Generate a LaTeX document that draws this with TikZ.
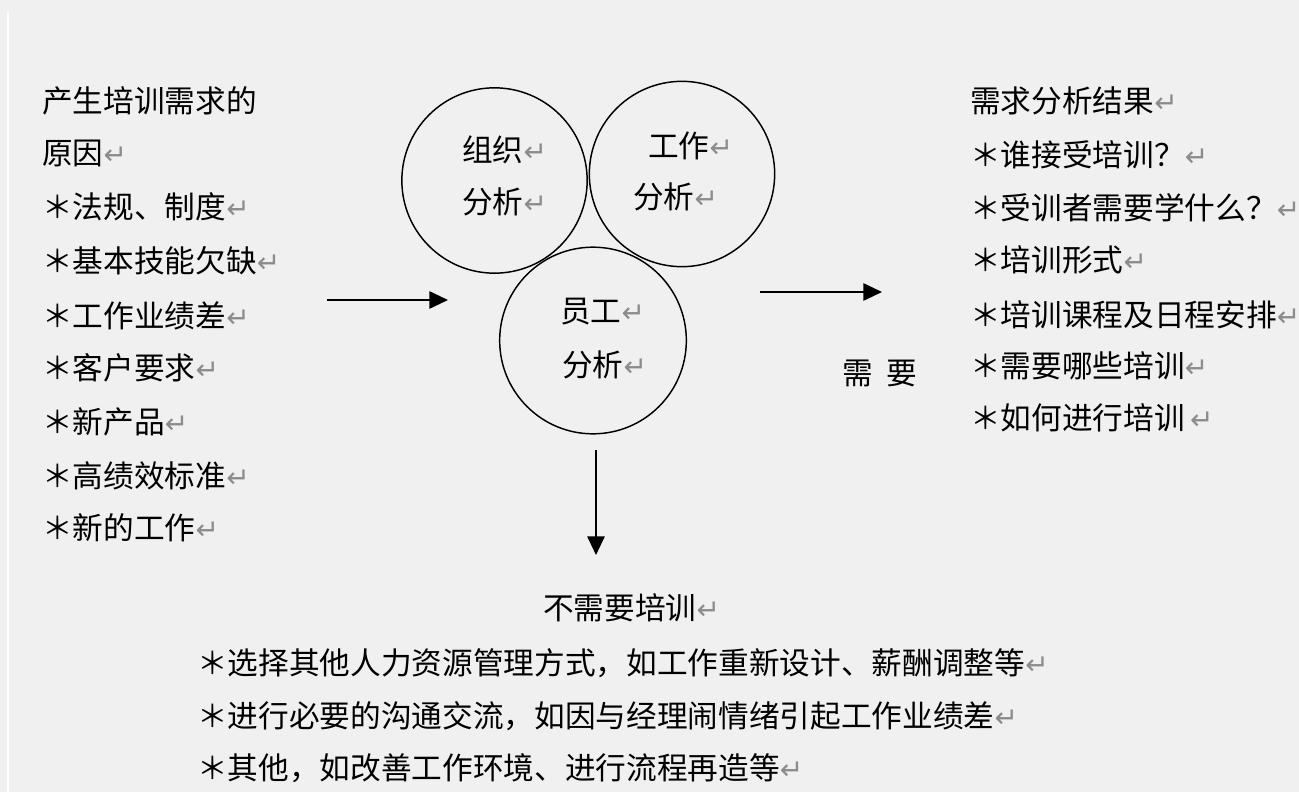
\documentclass[tikz,border=0pt]{standalone}
\usepackage{fontspec}
\usetikzlibrary{arrows.meta}
\newfontfamily\cjk{Noto Sans CJK SC}
\newfontfamily\symf{DejaVu Sans}
\definecolor{bgc}{HTML}{F0F0F0}
\definecolor{retgray}{HTML}{8C8C8C}
\newcommand{\rmk}{{\symf\fontsize{21}{21}\selectfont\textcolor{retgray}{↵}}}
\tikzset{
  txt/.style={font=\cjk\fontsize{23}{23}\selectfont, inner sep=0pt, anchor=west, text height=16pt, text depth=1.5pt},
  circ/.style={circle, draw, line width=1.1pt, inner sep=0pt},
  arr/.style={line width=1.4pt, -{Triangle[length=14pt,width=13pt]}}
}
\begin{document}
\begin{tikzpicture}[x=0.75pt,y=-0.75pt]
\fill[bgc] (0,0) rectangle (1299,792);
\useasboundingbox (0,0) rectangle (1299,792);
\draw[white, line width=1.5pt] (8,11) -- (8,792);

% left column
\node[txt] (l0) at (42,103) {产生培训需求的};
\node[txt] (l1) at (42,155) {原因\rmk};
\node[txt] (l2) at (42,209) {＊法规、制度\rmk};
\node[txt] (l3) at (42,263) {＊基本技能欠缺\rmk};
\node[txt] (l4) at (42,318) {＊工作业绩差\rmk};
\node[txt] (l5) at (42,370) {＊客户要求\rmk};
\node[txt] (l6) at (42,424) {＊新产品\rmk};
\node[txt] (l7) at (42,478) {＊高绩效标准\rmk};
\node[txt] (l8) at (42,530) {＊新的工作\rmk};

% circles
\node[circ, minimum size=139pt] (org) at (494.5,180.5) {};
\node[circ, minimum size=139pt] (job) at (682,174) {};
\node[circ, minimum size=140pt] (emp) at (593,340.5) {};
\node[txt] (orgA) at (462,152) {组织\rmk};
\node[txt] (orgB) at (462,204) {分析\rmk};
\node[txt] (jobA) at (648,148) {工作\rmk};
\node[txt] (jobB) at (633,199) {分析\rmk};
\node[txt] (empA) at (560,313) {员工\rmk};
\node[txt] (empB) at (562,367) {分析\rmk};

% arrows
\coordinate (la1) at (327,300);
\coordinate (la2) at (448,300);
\draw[arr] (la1) -- (la2);
\coordinate (ra1) at (760,292);
\coordinate (ra2) at (882,292);
\draw[arr] (ra1) -- (ra2);
\coordinate (da1) at (596,450);
\coordinate (da2) at (596,555);
\draw[arr] (da1) -- (da2);

\node[txt, anchor=center] (need) at (880,375) {需\hspace{0.45em}要};

% right column
\node[txt] (r0) at (970,103) {需求分析结果\rmk};
\node[txt] (r1) at (970,157) {＊谁接受培训？\rmk};
\node[txt] (r2) at (970,210) {＊受训者需要学什么？\rmk};
\node[txt] (r3) at (970,262) {＊培训形式\rmk};
\node[txt] (r4) at (970,317) {＊培训课程及日程安排\rmk};
\node[txt] (r5) at (970,368) {＊需要哪些培训\rmk};
\node[txt] (r6) at (970,420) {＊如何进行培训\,\rmk};

% bottom
\node[txt] (b0) at (543,610) {不需要培训\rmk};
\node[txt] (b1) at (197,665) {＊选择其他人力资源管理方式，如工作重新设计、薪酬调整等\rmk};
\node[txt] (b2) at (197,718) {＊进行必要的沟通交流，如因与经理闹情绪引起工作业绩差\rmk};
\node[txt] (b3) at (197,770) {＊其他，如改善工作环境、进行流程再造等\rmk};
\end{tikzpicture}
\end{document}
